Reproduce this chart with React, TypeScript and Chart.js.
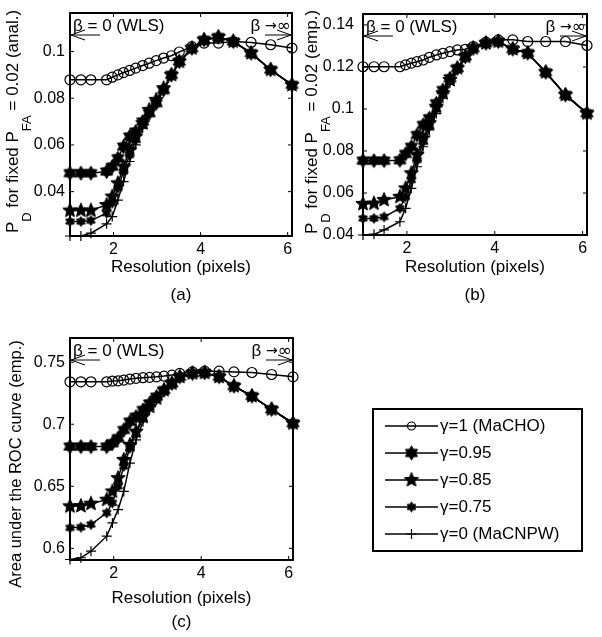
import React, { useEffect, useRef } from "react";
import { Chart, registerables } from "chart.js";
Chart.register(...registerables);

const FONT = '"Liberation Sans", Arial, Helvetica, sans-serif';
const SYM_FONT = '"DejaVu Sans", sans-serif';

// ---------- data ----------
const XRES = [1, 1.25, 1.48, 1.84, 1.97, 2.1, 2.23, 2.37, 2.51, 2.67, 2.82, 2.98, 3.15, 3.33, 3.51, 3.8, 4.08, 4.41, 4.75, 5.16, 5.61, 6.1];
const X_MIN = 1;
const X_MAX = 6.1;
const X_TICKS = [2, 4, 6];
const X_TICK_LABELS = ["2", "4", "6"];

const GAMMA_LABELS = ["γ=1 (MaCHO)", "γ=0.95", "γ=0.85", "γ=0.75", "γ=0 (MaCNPW)"];

// (a) P_D analytic
const A_G1 = [0.0879, 0.0879, 0.0879, 0.0879, 0.089, 0.09, 0.091, 0.0919, 0.0929, 0.094, 0.095, 0.0961, 0.0972, 0.0982, 0.0998, 0.1021, 0.1036, 0.1036, 0.1043, 0.1039, 0.1029, 0.1015];
const A_G095 = [0.0479, 0.0479, 0.0479, 0.0486, 0.0507, 0.0543, 0.0593, 0.0636, 0.0657, 0.07, 0.0736, 0.0779, 0.0836, 0.09, 0.0957, 0.1014, 0.105, 0.1062, 0.1043, 0.0993, 0.0922, 0.0857];
const A_G085 = [0.0319, 0.0319, 0.0319, 0.0343, 0.0379, 0.0436, 0.0507, 0.0579, 0.0636, 0.0693, 0.075, 0.0793, 0.0843, 0.09, 0.0957, 0.1014, 0.105, 0.1062, 0.1043, 0.0993, 0.0922, 0.0857];
const A_G075 = [0.0272, 0.0272, 0.0276, 0.0308, 0.0351, 0.0415, 0.0486, 0.0557, 0.0622, 0.0686, 0.0743, 0.0786, 0.0839, 0.0897, 0.0955, 0.1012, 0.1049, 0.1061, 0.1043, 0.0993, 0.0922, 0.0857];
const A_G0 = [0.021, 0.021, 0.0222, 0.0262, 0.0293, 0.0364, 0.0443, 0.0529, 0.06, 0.0672, 0.0729, 0.0779, 0.0836, 0.0893, 0.0955, 0.1012, 0.1049, 0.1061, 0.1043, 0.0993, 0.0922, 0.0857];
const A_Y_MIN = 0.021;
const A_Y_MAX = 0.1165;
const A_Y_TICKS = [0.04, 0.06, 0.08, 0.1];
const A_Y_TICK_LABELS = ["0.04", "0.06", "0.08", "0.1"];

// (b) P_D empirical
const B_G1 = [0.1201, 0.1201, 0.1201, 0.1201, 0.121, 0.1218, 0.1225, 0.1233, 0.1246, 0.1257, 0.1265, 0.1273, 0.1281, 0.1284, 0.1297, 0.1318, 0.1329, 0.1329, 0.1321, 0.1321, 0.1321, 0.1302];
const B_G095 = [0.0754, 0.0754, 0.0754, 0.0756, 0.0786, 0.082, 0.0876, 0.0924, 0.0956, 0.1027, 0.109, 0.1146, 0.1194, 0.1249, 0.1289, 0.1313, 0.1321, 0.1285, 0.1266, 0.1175, 0.1067, 0.0979];
const B_G085 = [0.0548, 0.055, 0.0567, 0.0582, 0.0622, 0.0694, 0.0781, 0.086, 0.0932, 0.1011, 0.1075, 0.1138, 0.1194, 0.1249, 0.1289, 0.1313, 0.1321, 0.1285, 0.1266, 0.1175, 0.1067, 0.0979];
const B_G075 = [0.0479, 0.0479, 0.0486, 0.0527, 0.0582, 0.0662, 0.0757, 0.0844, 0.0916, 0.1, 0.1071, 0.1135, 0.119, 0.1246, 0.1287, 0.1312, 0.132, 0.1285, 0.1266, 0.1175, 0.1067, 0.0979];
const B_G0 = [0.04, 0.0403, 0.0424, 0.0463, 0.0527, 0.0622, 0.0725, 0.082, 0.09, 0.0978, 0.1051, 0.1122, 0.1186, 0.1241, 0.1287, 0.1312, 0.132, 0.1285, 0.1266, 0.1175, 0.1067, 0.0979];
const B_Y_MIN = 0.04;
const B_Y_MAX = 0.1452;
const B_Y_TICKS = [0.04, 0.06, 0.08, 0.1, 0.12, 0.14];
const B_Y_TICK_LABELS = ["0.04", "0.06", "0.08", "0.1", "0.12", "0.14"];

// (c) AUC empirical
const C_G1 = [0.7342, 0.7342, 0.7342, 0.7342, 0.7348, 0.735, 0.7356, 0.7364, 0.737, 0.7375, 0.7378, 0.7382, 0.7388, 0.7396, 0.741, 0.7422, 0.7428, 0.7428, 0.7422, 0.7417, 0.7401, 0.7382];
const C_G095 = [0.682, 0.682, 0.682, 0.682, 0.6847, 0.6888, 0.6954, 0.7021, 0.7061, 0.7115, 0.7168, 0.7222, 0.7275, 0.7329, 0.7382, 0.741, 0.7415, 0.7382, 0.7307, 0.7227, 0.712, 0.7008];
const C_G085 = [0.6339, 0.6341, 0.636, 0.6392, 0.6459, 0.6566, 0.6713, 0.6834, 0.6941, 0.7061, 0.7141, 0.7208, 0.7275, 0.7329, 0.7382, 0.741, 0.7415, 0.7382, 0.7307, 0.7227, 0.712, 0.7008];
const C_G075 = [0.6165, 0.617, 0.6192, 0.6286, 0.6366, 0.65, 0.666, 0.6807, 0.6927, 0.7048, 0.7137, 0.7204, 0.727, 0.7324, 0.7377, 0.7408, 0.7414, 0.7382, 0.7307, 0.7227, 0.712, 0.7008];
const C_G0 = [0.591, 0.5924, 0.5977, 0.6098, 0.6205, 0.6312, 0.6459, 0.6687, 0.6874, 0.7021, 0.7122, 0.72, 0.7268, 0.7324, 0.7377, 0.7408, 0.7414, 0.7382, 0.7307, 0.7227, 0.712, 0.7008];
const C_Y_MIN = 0.5906;
const C_Y_MAX = 0.7695;
const C_Y_TICKS = [0.6, 0.65, 0.7, 0.75];
const C_Y_TICK_LABELS = ["0.6", "0.65", "0.7", "0.75"];

// ---------- helpers ----------
type Seg = { t: string; sub?: boolean };

function starCanvas(n: number, R: number, ratio: number): HTMLCanvasElement {
  const size = Math.ceil(2 * R + 3);
  const c = document.createElement("canvas");
  c.width = size;
  c.height = size;
  const g = c.getContext("2d")!;
  g.translate(size / 2, size / 2);
  g.beginPath();
  for (let k = 0; k < 2 * n; k++) {
    const r = k % 2 === 0 ? R : R * ratio;
    const a = -Math.PI / 2 + (k * Math.PI) / n;
    g.lineTo(r * Math.cos(a), r * Math.sin(a));
  }
  g.closePath();
  g.fillStyle = "#000";
  g.fill();
  g.lineWidth = 1;
  g.strokeStyle = "#000";
  g.stroke();
  return c;
}

function drawMarker(ctx: CanvasRenderingContext2D, style: any, radius: number, x: number, y: number) {
  ctx.save();
  ctx.strokeStyle = "#000";
  ctx.lineWidth = 1.2;
  if (style instanceof HTMLCanvasElement) {
    ctx.drawImage(style, x - style.width / 2, y - style.height / 2);
  } else if (style === "circle") {
    ctx.beginPath();
    ctx.arc(x, y, radius - 1, 0, Math.PI * 2);
    ctx.stroke();
  } else if (style === "cross") {
    ctx.beginPath();
    ctx.moveTo(x - radius, y);
    ctx.lineTo(x + radius, y);
    ctx.moveTo(x, y - radius);
    ctx.lineTo(x, y + radius);
    ctx.stroke();
  }
  ctx.restore();
}

function drawVerticalRich(ctx: CanvasRenderingContext2D, segs: Seg[], baseX: number, cy: number, size: number) {
  ctx.save();
  ctx.translate(baseX, cy);
  ctx.rotate(-Math.PI / 2);
  const main = `${size}px ${FONT}`;
  const subSize = Math.round(size * 0.76);
  const sub = `${subSize}px ${FONT}`;
  let total = 0;
  for (const s of segs) {
    ctx.font = s.sub ? sub : main;
    total += ctx.measureText(s.t).width;
  }
  let pos = -total / 2;
  ctx.fillStyle = "#000";
  ctx.textBaseline = "alphabetic";
  ctx.textAlign = "left";
  for (const s of segs) {
    ctx.font = s.sub ? sub : main;
    ctx.fillText(s.t, pos, s.sub ? size * 0.75 : 0);
    pos += ctx.measureText(s.t).width;
  }
  ctx.restore();
}

function arrow(ctx: CanvasRenderingContext2D, x0: number, y: number, x1: number) {
  const dir = Math.sign(x1 - x0);
  ctx.beginPath();
  ctx.moveTo(x0, y);
  ctx.lineTo(x1, y);
  ctx.moveTo(x1 - dir * 14, y - 5);
  ctx.lineTo(x1, y);
  ctx.lineTo(x1 - dir * 14, y + 5);
  ctx.lineWidth = 1;
  ctx.strokeStyle = "#000";
  ctx.stroke();
}

interface PanelCfg {
  series: number[][];
  yMin: number;
  yMax: number;
  yTicks: number[];
  yTickLabels: string[];
  yTickPad: number;
  yTitle: Seg[];
  yTitleX: number;
  yTitleY: number;
  yTitleSize: number;
  xTitle: string[];
  xTitleLH: number;
  xTitlePadBottom: number;
  padTop: number;
  padRight: number;
  yAxisWidth: number;
  xAxisHeight: number;
  legend?: { x: number; y: number; w: number; h: number; row0: number; dy: number };
}

function makeChart(canvas: HTMLCanvasElement, cfg: PanelCfg, markers: any[]) {
  const datasets = cfg.series.map((vals, i) => ({
    label: GAMMA_LABELS[i],
    data: XRES.map((x, k) => ({ x, y: vals[k] })),
    borderColor: "#000",
    borderWidth: 1.5,
    pointStyle: markers[i].style,
    pointRadius: markers[i].radius,
    pointBorderColor: "#000",
    pointBackgroundColor: markers[i].bg,
    pointBorderWidth: markers[i].bw,
    clip: false as any,
    tension: 0,
    fill: false,
  }));

  const framePlugin = {
    id: "matlabFrame",
    afterDraw(chart: any) {
      const ctx: CanvasRenderingContext2D = chart.ctx;
      const ca = chart.chartArea;
      const xs = chart.scales.x;
      const ys = chart.scales.y;
      ctx.save();
      // inside tick marks
      ctx.strokeStyle = "#000";
      ctx.lineWidth = 1;
      ctx.beginPath();
      const tl = 4;
      for (const v of X_TICKS) {
        const px = xs.getPixelForValue(v);
        ctx.moveTo(px, ca.bottom);
        ctx.lineTo(px, ca.bottom - tl);
        ctx.moveTo(px, ca.top);
        ctx.lineTo(px, ca.top + tl);
      }
      for (const v of cfg.yTicks) {
        const py = ys.getPixelForValue(v);
        ctx.moveTo(ca.left, py);
        ctx.lineTo(ca.left + tl, py);
        ctx.moveTo(ca.right, py);
        ctx.lineTo(ca.right - tl, py);
      }
      ctx.stroke();
      // box
      ctx.lineWidth = 2;
      ctx.strokeRect(ca.left, ca.top, ca.right - ca.left, ca.bottom - ca.top);
      // beta annotations
      ctx.fillStyle = "#000";
      ctx.textBaseline = "alphabetic";
      ctx.textAlign = "left";
      ctx.font = `17px ${FONT}`;
      ctx.fillText("β = 0 (WLS)", ca.left + 3, ca.top + 18);
      // right: "β →∞"
      ctx.textAlign = "right";
      ctx.font = `17px ${SYM_FONT}`;
      const infW = ctx.measureText("∞").width;
      ctx.fillText("∞", ca.right - 1, ca.top + 18);
      ctx.font = `14px ${SYM_FONT}`;
      const arW = ctx.measureText("→").width;
      ctx.fillText("→", ca.right - 1 - infW, ca.top + 17);
      ctx.font = `17px ${FONT}`;
      ctx.fillText("β ", ca.right - 1 - infW - arW, ca.top + 18);
      const ay = ca.top + 22;
      arrow(ctx, ca.left + 30, ay, ca.left + 1);
      arrow(ctx, ca.right - 27, ay, ca.right - 1);
      ctx.restore();
      // y title
      drawVerticalRich(ctx, cfg.yTitle, cfg.yTitleX, cfg.yTitleY, cfg.yTitleSize);
      // legend
      if (cfg.legend) {
        const L = cfg.legend;
        ctx.save();
        ctx.fillStyle = "#fff";
        ctx.fillRect(L.x, L.y, L.w, L.h);
        ctx.lineWidth = 2;
        ctx.strokeStyle = "#000";
        ctx.strokeRect(L.x, L.y, L.w, L.h);
        chart.data.datasets.forEach((ds: any, i: number) => {
          const y = L.row0 + i * L.dy;
          ctx.beginPath();
          ctx.moveTo(L.x + 12, y);
          ctx.lineTo(L.x + 65, y);
          ctx.lineWidth = 1.5;
          ctx.strokeStyle = "#000";
          ctx.stroke();
          drawMarker(ctx, ds.pointStyle, ds.pointRadius, L.x + 38.5, y);
          ctx.font = `17px ${FONT}`;
          ctx.fillStyle = "#000";
          ctx.textBaseline = "middle";
          ctx.textAlign = "left";
          ctx.fillText(ds.label, L.x + 67, y);
        });
        ctx.restore();
      }
    },
  };

  return new Chart(canvas, {
    type: "line",
    data: { datasets: datasets as any },
    options: {
      animation: false,
      responsive: false,
      devicePixelRatio: 1,
      events: [],
      layout: { padding: { left: 0, top: cfg.padTop, right: cfg.padRight, bottom: 0 } },
      plugins: { legend: { display: false }, tooltip: { enabled: false } },
      scales: {
        x: {
          type: "linear",
          min: X_MIN,
          max: X_MAX,
          bounds: "data",
          grid: { display: false, drawTicks: false },
          border: { display: false },
          afterBuildTicks: (s: any) => {
            s.ticks = X_TICKS.map((v) => ({ value: v }));
          },
          afterFit: (s: any) => {
            s.height = cfg.xAxisHeight;
            s.paddingLeft = 0;
            s.paddingRight = 0;
          },
          ticks: {
            padding: 4,
            color: "#000",
            maxRotation: 0,
            font: { size: 16, family: FONT },
            callback: (_v: any, i: number) => X_TICK_LABELS[i],
          },
          title: {
            display: true,
            text: cfg.xTitle,
            color: "#000",
            font: { size: 17, family: FONT, lineHeight: `${cfg.xTitleLH}px` as any },
            padding: { top: 0, bottom: cfg.xTitlePadBottom },
          },
        },
        y: {
          type: "linear",
          min: cfg.yMin,
          max: cfg.yMax,
          bounds: "data",
          grid: { display: false, drawTicks: false },
          border: { display: false },
          afterBuildTicks: (s: any) => {
            s.ticks = cfg.yTicks.map((v) => ({ value: v }));
          },
          afterFit: (s: any) => {
            s.width = cfg.yAxisWidth;
            s.paddingTop = 0;
            s.paddingBottom = 0;
          },
          ticks: {
            padding: cfg.yTickPad,
            color: "#000",
            font: { size: 16, family: FONT },
            callback: (_v: any, i: number) => cfg.yTickLabels[i],
          },
        },
      },
    } as any,
    plugins: [framePlugin],
  });
}

export default function App() {
  const refA = useRef<HTMLCanvasElement>(null);
  const refB = useRef<HTMLCanvasElement>(null);
  const refC = useRef<HTMLCanvasElement>(null);

  useEffect(() => {
    const markers = [
      { style: "circle", radius: 5, bg: "rgba(0,0,0,0)", bw: 1.2 },
      { style: starCanvas(6, 7, 0.6), radius: 7, bg: "#000", bw: 1 },
      { style: starCanvas(5, 7.5, 0.45), radius: 7, bg: "#000", bw: 1 },
      { style: starCanvas(6, 5, 0.6), radius: 5, bg: "#000", bw: 1 },
      { style: "cross", radius: 5, bg: "#000", bw: 1.2 },
    ];
    const charts: Chart[] = [];
    charts.push(
      makeChart(refA.current!, {
        series: [A_G1, A_G095, A_G085, A_G075, A_G0],
        yMin: A_Y_MIN, yMax: A_Y_MAX, yTicks: A_Y_TICKS, yTickLabels: A_Y_TICK_LABELS, yTickPad: 5,
        yTitle: [{ t: "P" }, { t: "D", sub: true }, { t: " for fixed P" }, { t: "FA", sub: true }, { t: " = 0.02 (anal.)" }],
        yTitleX: 18, yTitleY: 121.5, yTitleSize: 17,
        xTitle: ["Resolution (pixels)", "(a)"], xTitleLH: 28, xTitlePadBottom: 1,
        padTop: 13, padRight: 8, yAxisWidth: 70, xAxisHeight: 74,
      }, markers)
    );
    charts.push(
      makeChart(refB.current!, {
        series: [B_G1, B_G095, B_G085, B_G075, B_G0],
        yMin: B_Y_MIN, yMax: B_Y_MAX, yTicks: B_Y_TICKS, yTickLabels: B_Y_TICK_LABELS, yTickPad: 9,
        yTitle: [{ t: "P" }, { t: "D", sub: true }, { t: " for fixed P" }, { t: "FA", sub: true }, { t: " = 0.02 (emp.)" }],
        yTitleX: 17, yTitleY: 122, yTitleSize: 17,
        xTitle: ["Resolution (pixels)", "(b)"], xTitleLH: 28, xTitlePadBottom: 1,
        padTop: 14, padRight: 15, yAxisWidth: 63, xAxisHeight: 75,
      }, markers)
    );
    charts.push(
      makeChart(refC.current!, {
        series: [C_G1, C_G095, C_G085, C_G075, C_G0],
        yMin: C_Y_MIN, yMax: C_Y_MAX, yTicks: C_Y_TICKS, yTickLabels: C_Y_TICK_LABELS, yTickPad: 5,
        yTitle: [{ t: "Area under the ROC curve (emp.)" }],
        yTitleX: 21, yTitleY: 154, yTitleSize: 16.5,
        xTitle: ["Resolution (pixels)", "(c)"], xTitleLH: 24, xTitlePadBottom: 3,
        padTop: 28, padRight: 309, yAxisWidth: 70, xAxisHeight: 77,
        legend: { x: 373, y: 99, w: 209, h: 142, row0: 116, dy: 27 },
      }, markers)
    );
    return () => charts.forEach((c) => c.destroy());
  }, []);

  const base: React.CSSProperties = { position: "absolute", display: "block" };
  return (
    <div style={{ position: "fixed", left: 0, top: 0, width: 602, height: 637, background: "#fff", overflow: "hidden" }}>
      <canvas ref={refA} width={300} height={310} style={{ ...base, left: 0, top: 0, width: 300, height: 310 }} />
      <canvas ref={refB} width={302} height={310} style={{ ...base, left: 300, top: 0, width: 302, height: 310 }} />
      <canvas ref={refC} width={602} height={327} style={{ ...base, left: 0, top: 310, width: 602, height: 327 }} />
    </div>
  );
}
